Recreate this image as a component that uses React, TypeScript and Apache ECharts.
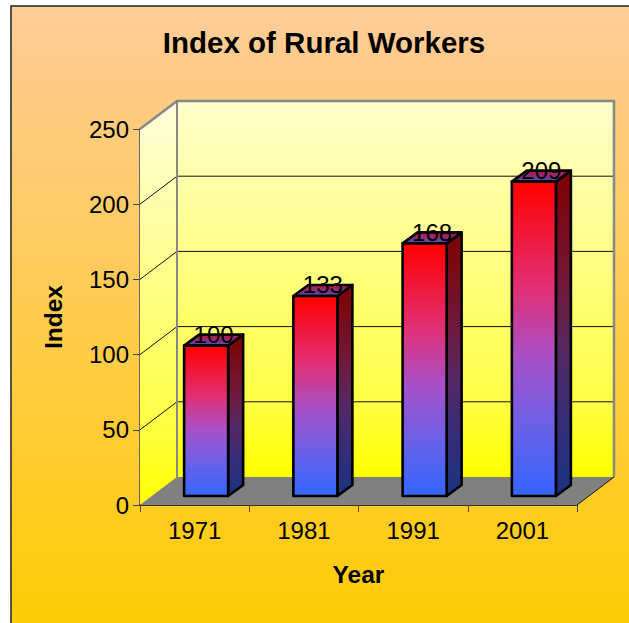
import React, { useEffect, useRef } from "react";
import * as echarts from "echarts";

const categories = ["1971", "1981", "1991", "2001"];
const values = [100, 133, 168, 209];
const yTicks = [50, 100, 150, 200];
const titleText = "Index of Rural Workers";
const xName = "Year";
const yName = "Index";

const W = 629;
const H = 623;
const FONT = '"Liberation Sans", Arial, sans-serif';
const WALL_DX = 37;
const WALL_DY = -28;
const BAR_SHIFT_X = 11.5;
const BAR_SHIFT_Y = -9;
const BAR_DX = 15;
const BAR_DY = -11;
const BAR_W = 0.403;

const grad = (a: string, b: string, x2 = 0, y2 = 1) =>
  new echarts.graphic.LinearGradient(0, 0, x2, y2, [
    { offset: 0, color: a },
    { offset: 1, color: b },
  ]);
const wallGrad = (a: string) =>
  new echarts.graphic.LinearGradient(0, 0, 0, 1, [
    { offset: 0, color: a },
    { offset: 0.8, color: "#FFFF44" },
    { offset: 1, color: "#FFFF00" },
  ]);
const grad5 = (a: string, b: string, c: string, d: string, e: string) =>
  new echarts.graphic.LinearGradient(0, 0, 0, 1, [
    { offset: 0, color: a },
    { offset: 0.34, color: b },
    { offset: 0.56, color: c },
    { offset: 0.78, color: d },
    { offset: 1, color: e },
  ]);

const poly = (points: number[][], style: any) => ({ type: "polygon", shape: { points }, style });
const line = (points: number[][], stroke: string, lineWidth: number) => ({
  type: "polyline",
  shape: { points },
  style: { stroke, lineWidth, fill: "none" },
});

export default function App() {
  const ref = useRef<HTMLDivElement>(null);
  useEffect(() => {
    const chart = echarts.init(ref.current!, undefined, { renderer: "svg" });
    chart.setOption({
      animation: false,
      title: {
        text: titleText,
        left: 319,
        top: 22,
        textAlign: "center",
        textStyle: { fontFamily: FONT, fontSize: 29.5, fontWeight: "bold", color: "#000" },
      },
      graphic: [
        {
          type: "rect",
          z: -10,
          shape: { x: 11, y: 6, width: 640, height: 640 },
          style: { fill: grad("#FFCC99", "#FFCC00"), stroke: "#222", lineWidth: 1.5 },
        },
      ],
      grid: { left: 140, top: 129, width: 437, height: 376 },
      xAxis: {
        type: "category",
        data: categories,
        name: xName,
        nameLocation: "middle",
        nameGap: 57,
        nameTextStyle: { fontFamily: FONT, fontSize: 24.5, fontWeight: "bold", color: "#000" },
        axisLine: { show: true, lineStyle: { color: "#000", width: 1.5 } },
        axisTick: { show: true, length: 7, alignWithLabel: false, lineStyle: { color: "#444", width: 1 } },
        axisLabel: { fontFamily: FONT, fontSize: 24, color: "#000", margin: 13 },
        splitLine: { show: false },
      },
      yAxis: {
        type: "value",
        min: 0,
        max: 250,
        interval: 50,
        name: yName,
        nameLocation: "middle",
        nameGap: 74,
        nameTextStyle: { fontFamily: FONT, fontSize: 24.5, fontWeight: "bold", color: "#000" },
        axisLine: { show: true, lineStyle: { color: "#666", width: 2 } },
        axisTick: { show: true, length: 7, lineStyle: { color: "#444", width: 1 } },
        axisLabel: { fontFamily: FONT, fontSize: 24, color: "#000", margin: 11 },
        splitLine: { show: false },
      },
      series: [
        {
          type: "custom",
          z: 1,
          silent: true,
          clip: false,
          data: [0],
          encode: { x: -1, y: -1 },
          renderItem: (params: any) => {
            const c = params.coordSys;
            const l = c.x, r = c.x + c.width, t = c.y, b = c.y + c.height;
            return {
              type: "group",
              children: [
                poly(
                  [[l + WALL_DX, t + WALL_DY], [r + WALL_DX, t + WALL_DY], [r + WALL_DX, b + WALL_DY], [l + WALL_DX, b + WALL_DY]],
                  { fill: wallGrad("#FFFFCC") }
                ),
                poly(
                  [[l, t], [l + WALL_DX, t + WALL_DY], [l + WALL_DX, b + WALL_DY], [l, b]],
                  { fill: wallGrad("#FFFFDD") }
                ),
                poly(
                  [[l, b], [l + WALL_DX, b + WALL_DY], [r + WALL_DX, b + WALL_DY], [r, b]],
                  { fill: "#808080" }
                ),
              ],
            };
          },
        },
        {
          type: "custom",
          z: 2,
          silent: true,
          clip: false,
          data: yTicks,
          encode: { y: 0 },
          renderItem: (params: any, api: any) => {
            const c = params.coordSys;
            const y = api.coord([0, api.value(0)])[1];
            return line(
              [[c.x, y], [c.x + WALL_DX, y + WALL_DY], [c.x + c.width + WALL_DX, y + WALL_DY]],
              "#111",
              1
            );
          },
        },
        {
          type: "custom",
          z: 3,
          silent: true,
          clip: false,
          data: [0],
          encode: { x: -1, y: -1 },
          renderItem: (params: any) => {
            const c = params.coordSys;
            const l = c.x, r = c.x + c.width, t = c.y, b = c.y + c.height;
            return {
              type: "group",
              children: [
                line([[l + WALL_DX, b + WALL_DY], [l + WALL_DX, t + WALL_DY]], "#888", 2),
                line([[l, t], [l + WALL_DX, t + WALL_DY], [r + WALL_DX, t + WALL_DY], [r + WALL_DX, b + WALL_DY]], "#888", 2.5),
                line([[r, b], [r + WALL_DX, b + WALL_DY]], "#111", 1),
              ],
            };
          },
        },
        {
          type: "custom",
          z: 4,
          silent: true,
          clip: false,
          data: categories.map((_, i) => [i, values[i]]),
          encode: { x: 0, y: 1 },
          renderItem: (_params: any, api: any) => {
            const top = api.coord([api.value(0), api.value(1)]);
            const base = api.coord([api.value(0), 0]);
            const w = api.size([1, 0])[0] * BAR_W;
            const x0 = top[0] - w / 2 + BAR_SHIFT_X;
            const x1 = x0 + w;
            const yt = top[1] + BAR_SHIFT_Y;
            const yb = base[1] + BAR_SHIFT_Y;
            const edge = { stroke: "#000", lineWidth: 2.6, lineJoin: "round" };
            return {
              type: "group",
              children: [
                poly(
                  [[x1, yt], [x1 + BAR_DX, yt + BAR_DY], [x1 + BAR_DX, yb + BAR_DY], [x1, yb]],
                  { fill: grad5("#800000", "#701838", "#542864", "#352D78", "#1A3380"), ...edge }
                ),
                poly(
                  [[x0, yt], [x0 + BAR_DX, yt + BAR_DY], [x1 + BAR_DX, yt + BAR_DY], [x1, yt]],
                  { fill: grad("#C8103A", "#4A50C0"), ...edge }
                ),
                poly(
                  [[x0, yt], [x1, yt], [x1, yb], [x0, yb]],
                  { fill: grad5("#FF0000", "#E03075", "#A850C8", "#6A60E8", "#3366FF"), ...edge }
                ),
                {
                  type: "text",
                  style: {
                    x: (x0 + x1) / 2 + BAR_DX / 2,
                    y: yt + BAR_DY,
                    text: String(api.value(1)),
                    align: "center",
                    verticalAlign: "middle",
                    fontFamily: FONT,
                    fontSize: 24,
                    fill: "#000",
                  },
                },
              ],
            };
          },
        },
      ],
    });
    return () => chart.dispose();
  }, []);
  return <div ref={ref} style={{ position: "fixed", left: 0, top: 0, width: W, height: H, background: "#fff" }} />;
}
